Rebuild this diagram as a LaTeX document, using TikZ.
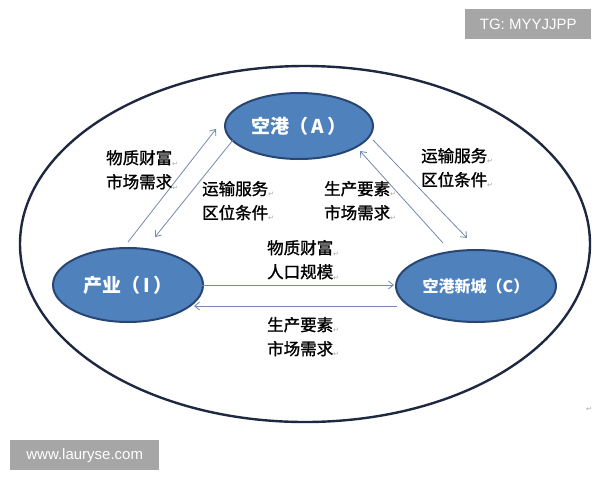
\documentclass[tikz,border=0pt]{standalone}
\usepackage{fontspec}
\setmainfont{Liberation Sans}
\newfontfamily\cjk{Noto Sans CJK SC}
\newfontfamily\cjkm{Noto Sans CJK SC}[FakeBold=1.3]
\newfontfamily\djv{DejaVu Sans}
\usetikzlibrary{arrows.meta,shapes.geometric}
\definecolor{nodeblue}{RGB}{79,129,189}
\definecolor{nodeedge}{RGB}{40,70,115}
\definecolor{outer}{RGB}{30,40,65}
\definecolor{arr}{RGB}{115,138,172}
\definecolor{wm}{RGB}{166,166,166}
\newcommand{\pmark}{{\djv\fontsize{7}{7}\selectfont\color{gray!70}\raisebox{-2pt}{↵}}}
\tikzset{
  blob/.style={ellipse, fill=nodeblue, draw=nodeedge, line width=2pt, text=white, font=\cjk\bfseries\fontsize{19}{19}\selectfont, inner sep=0pt},
  flow/.style={draw=arr, line width=0.8pt, -{Straight Barb[length=5pt,width=8pt]}},
  lbl/.style={align=left, font=\cjkm\fontsize{16.5}{24}\selectfont, text=black, inner sep=0pt},
  wmark/.style={fill=wm, text=white, font=\fontsize{15}{15}\selectfont, inner sep=0pt, anchor=north west}
}
\begin{document}
\begin{tikzpicture}[x=1pt,y=-1pt]
\useasboundingbox (0,0) rectangle (600,480);
\fill[white] (0,0) rectangle (600,480);
% outer ellipse
\draw[outer, line width=2.4pt] (305,244) ellipse [x radius=285, y radius=178];
% main nodes
\node[blob, minimum width=148pt, minimum height=66pt] (A) at (299,126) {空港（\,A\,）};
\node[blob, minimum width=150pt, minimum height=74pt] (I) at (128,285) {产业（\,I\,）};
\node[blob, minimum width=160pt, minimum height=72pt, font=\cjk\bfseries\fontsize{16}{16}\selectfont] (C) at (476,286) {空港新城（C）};
% connector end points
\coordinate (i1) at (128,242);
\coordinate (a1) at (216,129);
\coordinate (a2) at (233,140);
\coordinate (i2) at (155,237);
\coordinate (c3) at (443,243);
\coordinate (a3) at (360,151);
\coordinate (a4) at (373,140);
\coordinate (c4) at (467,238);
\coordinate (i5) at (202,285);
\coordinate (c5) at (394,285);
\coordinate (c6) at (397,306);
\coordinate (i6) at (194,306);
\draw[flow] (i1) -- (a1);
\draw[flow] (a2) -- (i2);
\draw[flow] (c3) -- (a3);
\draw[flow] (a4) -- (c4);
\draw[flow] (i5) -- (c5);
\draw[flow] (c6) -- (i6);
% labels
\node[lbl, anchor=west] (l1) at (106,170) {物质财富\pmark\\市场需求\pmark};
\node[lbl, anchor=west] (l2) at (202,201) {运输服务\pmark\\区位条件\pmark};
\node[lbl, anchor=west] (l3) at (324,201) {生产要素\pmark\\市场需求\pmark};
\node[lbl, anchor=west] (l4) at (421,168) {运输服务\pmark\\区位条件\pmark};
\node[lbl, anchor=west] (l5) at (267,260) {物质财富\pmark\\人口规模\pmark};
\node[lbl, anchor=west] (l6) at (267,337) {生产要素\pmark\\市场需求\pmark};
\node (pm) at (589,409) {\pmark};
% watermarks
\node[wmark, minimum width=126pt, minimum height=30pt] (w1) at (465,9) {TG: MYYJJPP};
\node[wmark, minimum width=149pt, minimum height=30pt] (w2) at (10,440) {www.lauryse.com};
\end{tikzpicture}
\end{document}
